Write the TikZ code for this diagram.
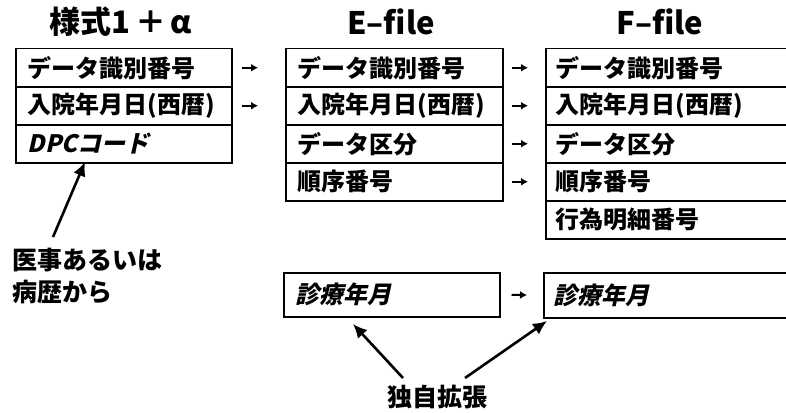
\documentclass[tikz,border=0pt]{standalone}
\usepackage{fontspec}
\setmainfont{Noto Sans CJK JP}
\newfontfamily\slantjp{Noto Sans CJK JP}[FakeSlant=0.22]
\usetikzlibrary{arrows.meta}
\begin{document}
\begin{tikzpicture}[x=1pt,y=-1pt,
  font=\bfseries\fontsize{24}{28}\selectfont,
  rowbox/.style={draw, line width=1.5pt, anchor=north west, minimum height=38pt,
    text width=#1, align=left, inner xsep=12pt, inner ysep=0pt},
  titletxt/.style={font=\bfseries\fontsize{31}{34}\selectfont, inner sep=0pt},
  labeltxt/.style={font=\bfseries\fontsize{25}{32}\selectfont, inner sep=0pt, align=left},
  smallarr/.style={line width=2pt, -{Latex[length=7pt,width=8pt]}},
  bigarr/.style={line width=2.6pt, -{Latex[length=14pt,width=13pt]}},
  it/.style={font=\slantjp\bfseries\fontsize{24}{28}\selectfont}]
\clip (0,0) rectangle (786,412);
% titles
\node[titletxt] (t1) at (121,22) {様式1\hspace{5pt}＋\hspace{4pt}α};
\node[titletxt] (t2) at (391,22) {E–file};
\node[titletxt] (t3) at (660,22) {F–file};
% left table
\node[rowbox=192pt] (l1) at (15,48) {データ識別番号};
\node[rowbox=192pt] (l2) at (15,86) {入院年月日(西暦)};
\node[rowbox=192pt, it] (l3) at (15,124) {DPCコード};
% E-file table
\node[rowbox=193pt] (e1) at (285,48) {データ識別番号};
\node[rowbox=193pt] (e2) at (285,86) {入院年月日(西暦)};
\node[rowbox=193pt] (e3) at (285,124) {データ区分};
\node[rowbox=193pt] (e4) at (285,162) {順序番号};
% F-file table
\node[rowbox=235pt, inner xsep=10pt] (f1) at (545,48) {データ識別番号};
\node[rowbox=235pt, inner xsep=10pt] (f2) at (545,86) {入院年月日(西暦)};
\node[rowbox=235pt, inner xsep=10pt] (f3) at (545,124) {データ区分};
\node[rowbox=235pt, inner xsep=10pt] (f4) at (545,162) {順序番号};
\node[rowbox=235pt, inner xsep=10pt] (f5) at (545,200) {行為明細番号};
% bottom boxes
\node[rowbox=192pt, minimum height=44pt, it] (eb) at (283,272) {診療年月};
\node[rowbox=235pt, minimum height=45pt, inner xsep=10pt, it] (fb) at (543,272) {診療年月};
% small arrows
\draw[smallarr, shorten <=9pt, shorten >=27pt] (l1.east) -- (e1.west);
\draw[smallarr, shorten <=9pt, shorten >=27pt] (l2.east) -- (e2.west);
\draw[smallarr, shorten <=8pt, shorten >=17pt] (e1.east) -- (f1.west);
\draw[smallarr, shorten <=8pt, shorten >=17pt] (e2.east) -- (f2.west);
\draw[smallarr, shorten <=8pt, shorten >=17pt] (e3.east) -- (f3.west);
\draw[smallarr, shorten <=8pt, shorten >=17pt] (e4.east) -- (f4.west);
\draw[smallarr, shorten <=11pt, shorten >=16pt] (eb.east) -- (fb.west);
% labels
\node[labeltxt, anchor=west] (lab1) at (12,276) {医事あるいは\\病歴から};
\node[labeltxt] (lab2) at (437,397) {独自拡張};
\coordinate (s1) at (53,237);
\coordinate (d1) at (85,162);
\coordinate (s2) at (403,378);
\coordinate (d2) at (353,324);
\coordinate (s3) at (465,378);
\coordinate (d3) at (547,321);
\draw[bigarr] (s1) -- (d1);
\draw[bigarr] (s2) -- (d2);
\draw[bigarr] (s3) -- (d3);
\end{tikzpicture}
\end{document}
